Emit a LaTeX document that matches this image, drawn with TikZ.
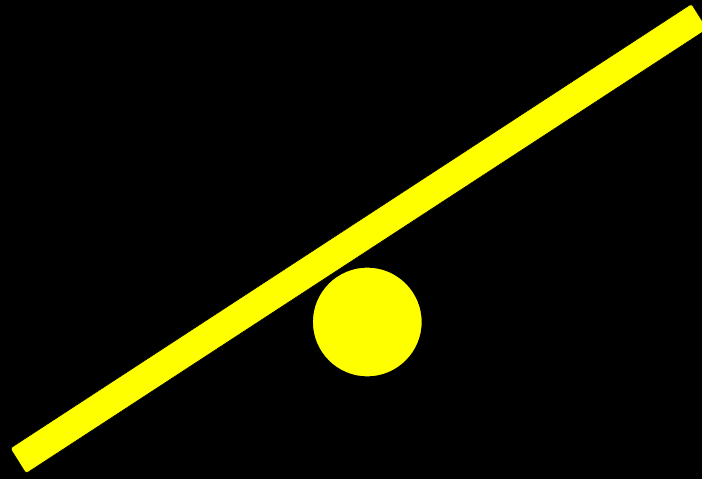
\documentclass[tikz,border=0pt]{standalone}
\usepackage{tikz}
\usetikzlibrary{calc}
\definecolor{baryellow}{RGB}{255,255,0}
\tikzset{
  plank/.style={fill=baryellow, draw=black, line width=0.6pt, rounded corners=2.5pt},
  pivot/.style={fill=baryellow, draw=black, line width=1.2pt},
}
\newcommand{\PivotR}{55}

\begin{document}
\begin{tikzpicture}[x=1pt, y=-1pt]
    % canvas
      \fill[black] (0,0) rectangle (702,479);
      \useasboundingbox (0,0) rectangle (702,479);
      \clip (0,0) rectangle (702,479);

    % plank corners
      \coordinate (plankA) at (10.2,448.3);
      \coordinate (plankB) at (26.0,473.5);
      \coordinate (plankC) at (707.3,29.0);
      \coordinate (plankD) at (691.5,3.8);
      \draw[plank] (plankA) -- (plankB) -- (plankC) -- (plankD) -- cycle;

    % fulcrum
      \coordinate (fulcrum) at (367.3,322);
      \draw[pivot] (fulcrum) circle (\PivotR);

\end{tikzpicture}
\end{document}
